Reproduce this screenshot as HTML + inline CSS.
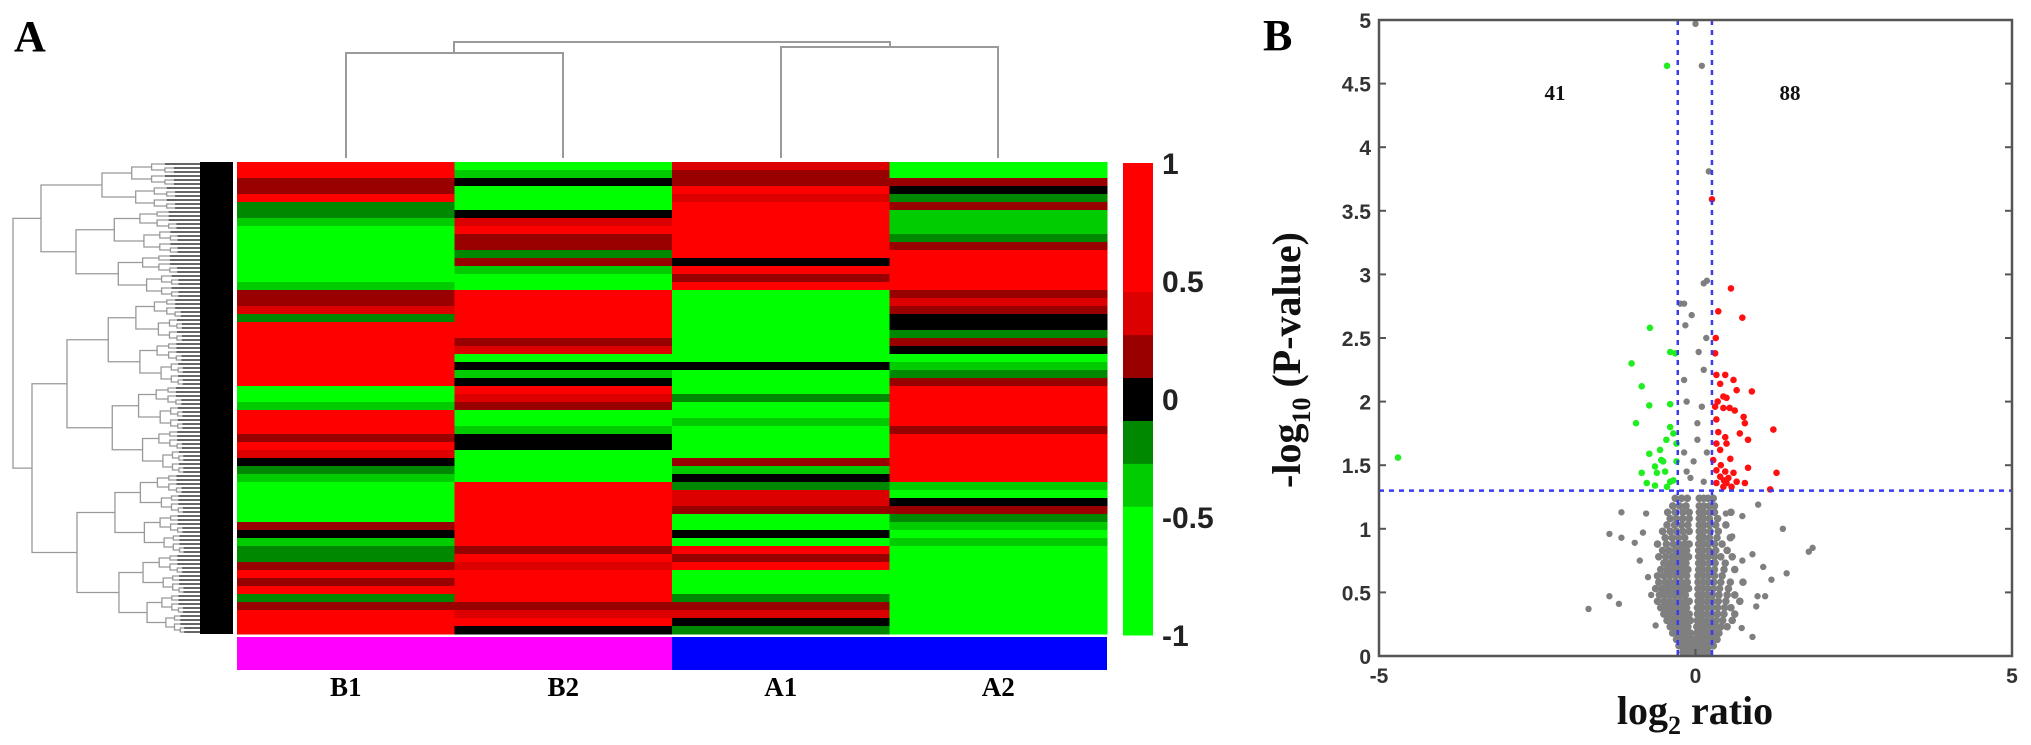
<!DOCTYPE html>
<html><head><meta charset="utf-8"><style>
html,body{margin:0;padding:0;background:#fff;}
svg{display:block;}
</style></head><body>
<svg id="fig" width="2031" height="745" viewBox="0 0 2031 745" xmlns="http://www.w3.org/2000/svg">
<text x="14" y="51" font-family="Liberation Serif, serif" font-weight="bold" font-size="44">A</text>
<text x="1263" y="50" font-family="Liberation Serif, serif" font-weight="bold" font-size="44">B</text>
<g id="heat"></g>
<g id="rowdend"></g>
<g id="coldend" stroke="#9a9a9a" stroke-width="2" fill="none">
<path d="M346,158 V53 H563 V158"/>
<path d="M781,158 V47 H998 V158"/>
<path d="M454,53 V42 H890 V47"/>
</g>
<rect x="237" y="637" width="435" height="33" fill="#ff00ff"/>
<rect x="672" y="637" width="435" height="33" fill="#0000ff"/>
<g id="collabels" font-family="Liberation Serif, serif" font-weight="bold" font-size="27" text-anchor="middle"></g>
<g id="cbar"></g>
<g id="volcano"></g>
</svg>
<script>
// ---------- Heatmap data ----------
const sampleNames = ["B1","B2","A1","A2"];
// codes: R=1, r=0.4, d=0.2, k=0, g=-0.2, m=-0.4, G=-1
const colB1 = [1,1,0.2,0.2,1,-0.2,-0.2,-0.4,-1,-1,-1,-1,-1,-1,-1,-0.4,0.2,0.2,0.4,-0.2,1,1,1,1,1,1,1,1,-1,-1,-0.4,1,1,1,0.2,1,0.4,0,-0.2,-0.4,-1,-1,-1,-1,-1,0.2,0,-0.4,-0.2,-0.2,0.2,1,0.2,1,-0.2,0.2,1,1,1];
const colB2 = [-1,-0.4,0,-1,-1,-1,0,0.4,1,0.2,0.2,-0.2,0.2,-0.4,-1,-1,1,1,1,1,1,1,0.2,0.4,-1,0,-0.4,0,1,0.4,0.2,-1,-1,-0.4,0,0,-1,-1,-1,-1,1,1,1,1,1,1,1,1,0.2,1,0.4,1,1,1,1,0.2,0.4,1,0];
const colA1 = [0.4,0.2,0.2,1,0.4,1,1,1,1,1,1,1,0,1,0.2,1,-1,-1,-1,-1,-1,-1,-1,-1,-1,0,-1,-1,-1,-0.2,-1,-1,-0.4,-1,-1,-1,-1,0.2,-0.4,0,-0.2,0.4,0.4,0.2,-1,-1,0,-1,1,0.2,1,-1,-1,-1,-0.2,0.2,0.4,0,-0.2];
const colA2 = [-1,-1,0.2,0,-0.2,0.2,-0.4,-0.4,-0.4,-0.2,0.2,1,1,1,1,1,0.2,0.4,0.2,0,0,-0.2,0.2,0,-1,-0.4,-0.2,0.2,1,1,1,1,1,0.2,1,1,1,1,1,1,-0.4,-1,0,0.2,-0.2,-0.4,-1,-0.4,-1,-1,-1,-1,-1,-1,-1,-1,-1,-1,-1];
const scaleTicks = ["1","0.5","0","-0.5","-1"];
const scaleBinColors = ["#00ff00","#00ff00","#00ff00","#00cc00","#008800","#000000","#990000","#dd0000","#ff0000","#ff0000","#ff0000"];

// ---------- Volcano data ----------
const xTicks = [-5,0,5];
const yTicks = [0,0.5,1,1.5,2,2.5,3,3.5,4,4.5,5];
const pThreshold = 1.3;
const fcThresholds = [-0.28,0.26];
const countLabels = ["41","88"];
const grayLevels = [0.03,0.08,0.13,0.18,0.23,0.28,0.33,0.38,0.43,0.48,0.53,0.58,0.63,0.68,0.73,0.78,0.83,0.88,0.93,0.98,1.03,1.08,1.13,1.18,1.24];
const grayRows = [
 [-0.2,-0.14,-0.08,-0.02,0.03,0.08,0.14,0.2],
 [-0.26,-0.2,-0.14,-0.08,-0.02,0.04,0.1,0.16,0.22,0.28],
 [-0.3,-0.24,-0.17,-0.1,-0.04,0.02,0.08,0.14,0.2,0.27,0.34],
 [-0.36,-0.29,-0.22,-0.15,-0.08,0.02,0.08,0.15,0.22,0.29,0.37],
 [-0.4,-0.33,-0.26,-0.19,-0.12,0.02,0.09,0.16,0.23,0.31,0.4,0.5],
 [-0.45,-0.37,-0.3,-0.22,-0.15,-0.08,0.03,0.1,0.17,0.25,0.33,0.43,0.58],
 [-0.5,-0.42,-0.34,-0.26,-0.18,-0.1,0.03,0.1,0.18,0.26,0.35,0.45,0.62],
 [-0.55,-0.46,-0.38,-0.3,-0.22,-0.14,0.03,0.1,0.18,0.26,0.35,0.46,0.56],
 [-0.6,-0.5,-0.41,-0.33,-0.25,-0.17,-0.1,0.04,0.11,0.19,0.27,0.36,0.48,0.7],
 [-0.57,-0.48,-0.4,-0.32,-0.24,-0.16,0.04,0.11,0.19,0.27,0.37,0.5,0.62],
 [-0.63,-0.53,-0.44,-0.35,-0.27,-0.19,-0.11,0.04,0.11,0.19,0.28,0.38,0.52],
 [-0.58,-0.48,-0.4,-0.31,-0.22,-0.13,0.04,0.12,0.2,0.29,0.4,0.55,0.75],
 [-0.6,-0.5,-0.41,-0.32,-0.23,-0.14,0.04,0.12,0.2,0.3,0.42],
 [-0.55,-0.45,-0.36,-0.28,-0.2,-0.12,0.05,0.12,0.2,0.3,0.45,0.62],
 [-0.5,-0.41,-0.33,-0.24,-0.15,0.05,0.12,0.21,0.31,0.47],
 [-0.58,-0.47,-0.37,-0.28,-0.19,-0.11,0.05,0.12,0.2,0.3,0.4,0.58],
 [-0.52,-0.42,-0.32,-0.23,-0.14,0.05,0.12,0.21,0.32,0.5],
 [-0.6,-0.46,-0.35,-0.26,-0.17,-0.1,0.05,0.12,0.2,0.3,0.42],
 [-0.48,-0.37,-0.27,-0.17,0.06,0.13,0.22,0.34,0.55],
 [-0.52,-0.4,-0.3,-0.2,-0.1,0.06,0.13,0.23,0.36],
 [-0.45,-0.33,-0.22,-0.12,0.06,0.13,0.22,0.32,0.48],
 [-0.4,-0.3,-0.2,-0.1,0.06,0.13,0.22,0.35],
 [-0.44,-0.32,-0.2,-0.1,0.06,0.13,0.22,0.3,0.56],
 [-0.36,-0.25,-0.15,0.06,0.13,0.22,0.3],
 [-0.32,-0.22,-0.13,0.06,0.13,0.2,0.28]
];
const grayOutX = [-1.17,-1.36,-1.17,-0.96,-1.69,-1.36,-1.21,1.38,1.85,1.79,0.99,1.44,1.1,0.9,0.98,1.2,0.73,0.96,0.74,0.9,1.07,0.74,0.58,0.48,-0.78,-0.83,-0.88,-0.75,-0.7,-0.63,-0.06,-0.16,0.05,0.13,-0.14,0.1,0.03,-0.03,-0.18,-0.08,0.13,-0.18,0.17,-0.24,0.13,0.03,-0.14,0.18,0.1,0,0.18,0.21,-0.18];
const grayOutY = [1.13,0.96,0.93,0.89,0.37,0.47,0.41,1.0,0.85,0.82,1.19,0.65,0.47,0.15,0.47,0.6,0.22,0.39,0.75,0.8,0.7,1.1,0.94,1.12,1.12,0.97,0.75,0.62,0.48,0.24,2.68,2.6,2.39,2.25,2.0,1.96,1.7,1.53,1.6,1.4,1.37,2.17,2.5,2.77,2.93,1.83,1.45,1.6,4.64,4.97,2.95,3.81,2.77];
const redX = [0.56,0.74,0.36,0.32,0.31,0.33,0.47,0.6,0.39,0.65,0.89,0.44,0.49,0.31,0.44,0.54,0.62,0.76,0.33,0.78,1.23,0.36,0.47,0.83,0.33,0.49,0.39,0.28,0.83,0.33,0.47,0.6,0.39,0.52,0.33,0.49,0.65,0.78,1.28,1.18,0.44,0.57,0.26,0.4,0.55,0.35,0.7,0.45];
const redY = [2.89,2.66,2.71,2.5,2.38,2.21,2.21,2.17,2.14,2.09,2.08,2.04,2.03,1.96,1.95,1.95,1.93,1.88,1.86,1.83,1.78,1.76,1.72,1.7,1.67,1.67,1.62,1.54,1.48,1.46,1.45,1.44,1.41,1.4,1.36,1.36,1.37,1.36,1.44,1.31,1.33,1.33,3.59,1.5,1.55,2.0,1.75,1.38];
const greenX = [-0.72,-1.01,-0.4,-0.32,-0.85,-0.73,-0.4,-0.94,-0.4,-0.35,-0.46,-0.3,-0.56,-0.73,-0.54,-0.51,-0.3,-0.64,-0.85,-0.61,-0.48,-0.4,-0.77,-0.64,-0.45,-0.35,-4.7,-0.45];
const greenY = [2.58,2.3,2.39,2.38,2.12,1.97,1.98,1.83,1.8,1.75,1.7,1.67,1.62,1.59,1.54,1.53,1.53,1.49,1.44,1.44,1.45,1.37,1.36,1.34,1.33,1.38,1.56,4.64];

const NS = "http://www.w3.org/2000/svg";
function mk(tag, attrs, parent){ const e=document.createElementNS(NS,tag); for(const k in attrs) e.setAttribute(k,attrs[k]); parent.appendChild(e); return e; }

// ---------- Heatmap ----------
const HX0=237, HX1=1107, HY0=162, HY1=634;
const cols=[colB1,colB2,colA1,colA2];
const nRows=colB1.length;
const colW=(HX1-HX0)/cols.length, rowH=(HY1-HY0)/nRows;
function binColor(v){ let b=Math.floor((v+1)/2*11); if(b<0)b=0; if(b>10)b=10; return scaleBinColors[b]; }
const heat=document.getElementById('heat');
cols.forEach((col,ci)=>{
  col.forEach((v,ri)=>{
    const r=mk('rect',{x:HX0+ci*colW,y:HY0+ri*rowH,width:colW+0.5,height:rowH+0.5,fill:binColor(v)},heat);
    
    
  });
});
const cl=document.getElementById('collabels');
sampleNames.forEach((n,i)=>{
  const t=mk('text',{x:HX0+colW*(i+0.5),y:696},cl);
  
  
  t.textContent=n;
});

// ---------- Row dendrogram ----------
const rd=document.getElementById('rowdend');
const NL=118, leafY=i=>HY0+(HY1-HY0)/NL*(i+0.5);
function build(lo,hi,x){
  if(hi-lo<=1) return {y:leafY(lo),x:x};
  const mid=Math.floor((lo+hi)/2);
  const cx=x+(192-x)*0.33;
  const a=build(lo,mid,cx), b=build(mid,hi,cx+(hi-lo>6?4:0));
  return {y:(a.y+b.y)/2,x:x,ch:[a,b]};
}
function draw(n){
  if(!n.ch){ const l=mk('line',{x1:n.x,y1:n.y,x2:233,y2:n.y,stroke:'#333','stroke-width':1.4},rd);   return; }
  const [a,b]=n.ch;
  const p=mk('path',{d:`M${a.x},${a.y} H${n.x} V${b.y} H${b.x}`,stroke:'#999','stroke-width':1.3,fill:'none'},rd);
  
  
  draw(a); draw(b);
}
const upA=build(0,12,102), upB=build(12,34,76), loA=build(34,78,67), loB=build(78,118,77);
const up={x:41,y:(upA.y+upB.y)/2,ch:[upA,upB]}, lo={x:32,y:(loA.y+loB.y)/2,ch:[loA,loB]};
draw({x:13,ch:[up,lo]});
mk('rect',{x:200,y:HY0,width:33,height:HY1-HY0,fill:'#000'},rd);

// ---------- Color scale ----------
const cb=document.getElementById('cbar');
const CBX=1123, CBW=30, CBY0=163, CBY1=635, bh=(CBY1-CBY0)/11;
scaleBinColors.forEach((c,i)=>{
  const r=mk('rect',{x:CBX,y:CBY1-(i+1)*bh,width:CBW,height:bh+0.5,fill:c},cb);
  
  
});
scaleTicks.forEach((t,i)=>{
  const y=CBY0+(CBY1-CBY0)*i/(scaleTicks.length-1);
  const e=mk('text',{x:1162,y:y+11,'font-family':'Liberation Sans, sans-serif','font-weight':'bold','font-size':30,fill:'#222'},cb);
  
  
  e.textContent=t;
});

// ---------- Volcano ----------
const V=document.getElementById('volcano');
const VX0=1379, VX1=2012, VY0=20, VY1=656;
const sx=v=>VX0+(v+5)/10*(VX1-VX0), sy=v=>VY1-v/5*(VY1-VY0);
function dot(x,y,c,name,r){ const e=mk('circle',{cx:sx(x),cy:sy(y),r:r,fill:c},V);   }
grayRows.forEach((row,i)=>row.forEach(x=>dot(x,grayLevels[i],'#7f7f7f','point-not-significant',3.8)));
grayOutX.forEach((x,i)=>dot(x,grayOutY[i],'#7f7f7f','point-not-significant',3.2));
redX.forEach((x,i)=>dot(x,redY[i],'#ff1010','point-up-regulated',3.3));
greenX.forEach((x,i)=>dot(x,greenY[i],'#20ee20','point-down-regulated',3.3));
// threshold lines
fcThresholds.forEach(t=>{
  const l=mk('line',{x1:sx(t),x2:sx(t),y1:VY0,y2:VY1,stroke:'#3a3af0','stroke-width':2.5,'stroke-dasharray':'5,5'},V);
  
  
});
const hl=mk('line',{x1:VX0,x2:VX1,y1:sy(pThreshold),y2:sy(pThreshold),stroke:'#3a3af0','stroke-width':2.5,'stroke-dasharray':'5,5'},V);


// frame
const fr=mk('rect',{x:VX0,y:VY0,width:VX1-VX0,height:VY1-VY0,fill:'none',stroke:'#555','stroke-width':2.5},V);


yTicks.forEach(t=>{
  const y=sy(t);
  const a=mk('line',{x1:VX0,x2:VX0+7,y1:y,y2:y,stroke:'#555','stroke-width':2},V);
   
  const b=mk('line',{x1:VX1-7,x2:VX1,y1:y,y2:y,stroke:'#555','stroke-width':2},V);
   
  const e=mk('text',{x:VX0-8,y:y+8,'text-anchor':'end','font-family':'Liberation Sans, sans-serif','font-weight':'bold','font-size':21,fill:'#333'},V);
   
  e.textContent=String(t);
});
xTicks.forEach(t=>{
  const x=sx(t);
  const a=mk('line',{x1:x,x2:x,y1:VY1,y2:VY1-7,stroke:'#555','stroke-width':2},V);
   
  const e=mk('text',{x:x,y:683,'text-anchor':'middle','font-family':'Liberation Sans, sans-serif','font-weight':'bold','font-size':21,fill:'#333'},V);
   
  e.textContent=String(t);
});
countLabels.forEach((c,i)=>{
  const e=mk('text',{x:i===0?1555:1790,y:100,'text-anchor':'middle','font-family':'Liberation Serif, serif','font-weight':'bold','font-size':21,fill:'#111'},V);
  
  
  e.textContent=c;
});
const xt=mk('text',{x:1695,y:724,'text-anchor':'middle','font-family':'Liberation Serif, serif','font-weight':'bold','font-size':40,fill:'#111'},V);
 
xt.innerHTML='log<tspan font-size="26" dy="10">2</tspan><tspan dy="-10"> ratio</tspan>';
const yt=mk('text',{x:0,y:0,'text-anchor':'middle','font-family':'Liberation Serif, serif','font-weight':'bold','font-size':40,fill:'#111',transform:'translate(1300,360) rotate(-90)'},V);
 
yt.innerHTML='-log<tspan font-size="26" dy="10">10</tspan><tspan dy="-10"> (P-value)</tspan>';
</script>
</body></html>
